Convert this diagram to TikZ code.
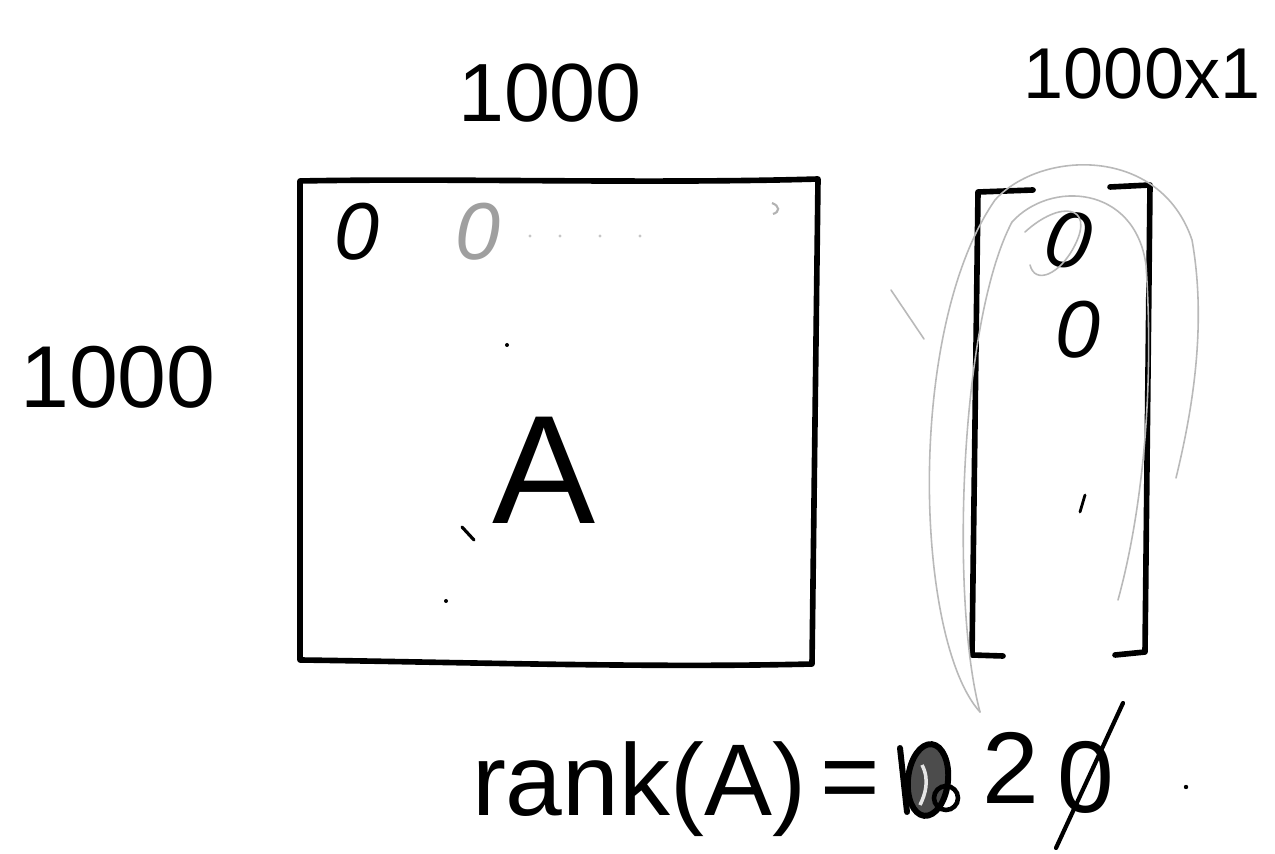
\documentclass[tikz,border=0pt]{standalone}
\usepackage{fontspec}
\setmainfont{Liberation Sans}
\begin{document}
\begin{tikzpicture}[x=0.02cm,y=-0.02cm,
  ink/.style={line width=3.2pt, line cap=round, line join=round},
  faint/.style={gray!55, line width=0.9pt, line cap=round},
  lbl/.style={inner sep=0pt, outer sep=0pt},
  zero/.style={lbl, font=\fontsize{46}{52}\selectfont\itshape}]
\useasboundingbox[fill=white] (0,0) rectangle (1275,854);

% dimension labels
\node[lbl, font=\fontsize{47}{56}\selectfont] (colsA) at (550,93) {1000};
\node[lbl, font=\fontsize{41}{48}\selectfont] (dimx) at (1142,74) {1000x1};
\node[lbl, font=\fontsize{50}{58}\selectfont] (rowsA) at (118,377) {1000};

% matrix A
\draw[ink] (300,181) .. controls (450,178) and (650,184) .. (818,179)
  -- (812,664) .. controls (650,668) and (450,662) .. (300,660) -- cycle;
\node[lbl, font=\fontsize{88}{96}\selectfont] (A) at (544,470) {A};
\node[zero] (a11) at (357,232) {0};
\node[zero, text=gray!75] (a12) at (478,232) {0};
\foreach \x in {530,560,600,640} \fill[gray!45] (\x,236) circle (1.6);
\draw[gray!60, line width=1.2pt] (772,203) .. controls (780,206) and (780,212) .. (773,214);
\draw[line width=1.8pt, line cap=round] (462,527) -- (474,540);
\fill (507,345) circle (2);
\fill (446,601) circle (2);

% vector
\draw[ink] (1033,190) -- (978,192) -- (972,655) -- (1003,656);
\draw[ink] (1110,187) -- (1150,185) -- (1145,652) -- (1115,655);
\node[zero, rotate=-10] (v1) at (1068,240) {0};
\node[zero] (v2) at (1078,330) {0};
\draw[line width=1.6pt, line cap=round] (1085,495) -- (1080,512);

% faint loops around the vector
\coordinate (loopend) at (980,712);
\draw[faint] (loopend) .. controls (915,640) and (905,330) .. (995,200)
  .. controls (1040,150) and (1160,145) .. (1192,240)
  .. controls (1208,330) and (1190,420) .. (1176,478);
\draw[faint] (loopend) .. controls (950,600) and (960,320) .. (1012,222)
  .. controls (1050,180) and (1135,185) .. (1146,265)
  .. controls (1155,400) and (1140,520) .. (1118,600);
\draw[faint] (1025,232) .. controls (1060,200) and (1095,205) .. (1075,245)
  .. controls (1060,275) and (1035,285) .. (1030,265);
\draw[faint] (891,290) -- (924,339);

% rank statement
\node[lbl, anchor=base west, font=\fontsize{58}{66}\selectfont] (rank) at (472,815) {rank(A)};
\node[lbl, font=\fontsize{58}{66}\selectfont] (eq) at (850,787) {=};
\node[lbl, anchor=base, font=\fontsize{58}{66}\selectfont] (two) at (1011,803) {2};
\node[lbl, anchor=base, font=\fontsize{58}{66}\selectfont] (zr) at (1086,812) {0};
\draw[line width=2.4pt, line cap=round] (1123,703) -- (1056,848);
% scribbled-out digits
\draw[line width=3.4pt, line cap=round] (900,748) -- (907,812);
\fill[gray!60!black, rotate around={-6:(928,780)}] (928,780) ellipse (20 and 36);
\draw[line width=3.4pt, rotate around={-6:(928,780)}] (928,780) ellipse (20 and 36);
\draw[line width=2.6pt] (946,798) circle (12);
\draw[line width=2pt, gray!20] (922,765) .. controls (930,780) and (925,795) .. (920,805);
\fill (1186,787) circle (2.2);
\end{tikzpicture}
\end{document}
